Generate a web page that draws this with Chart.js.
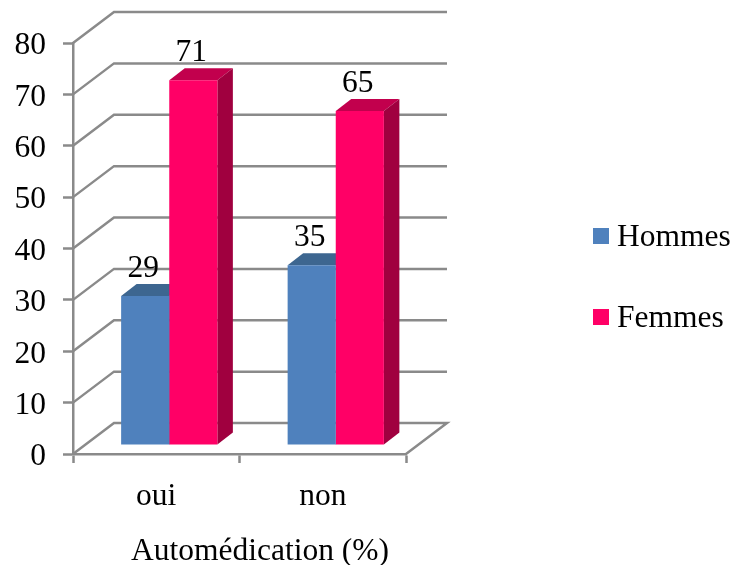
<!DOCTYPE html>
<html>
<head>
<meta charset="utf-8">
<script src="https://cdn.jsdelivr.net/npm/chart.js@4"></script>
<style>
  html, body { margin: 0; padding: 0; background: #fff; }
  canvas { display: block; }
</style>
</head>
<body>
<canvas id="chart" width="732" height="565"></canvas>
<script>
const categories = ['oui', 'non'];
const hommes = [29, 35];
const femmes = [71, 65];
const xTitle = 'Automédication (%)';

const font = '"Liberation Serif", "Times New Roman", serif';
const fontSize = 31.5;
const gridColor = '#8a8a8a';

// faces of each series: front, top, side
const faces = [
  { front: '#4F81BD', top: '#3D6690', side: '#3A5F88' },
  { front: '#FF0066', top: '#C2004D', side: '#A0003F' }
];

const wall = { dx: 41, dy: -31 };   // depth of the back wall
const bar3d = { dx: 15.5, dy: -12 }; // depth of a bar
const plane = { dx: 13, dy: -9 }; // where the bars stand on the floor

// the 3D look: walls, floor, bar sides, data labels and the legend
const fake3d = {
  id: 'fake3d',
  beforeDatasetsDraw(chart) {
    const { ctx, scales: { x, y } } = chart;
    ctx.save();
    ctx.strokeStyle = gridColor;
    ctx.lineWidth = 2.5;
    y.ticks.forEach((t, i) => {
      const py = y.getPixelForTick(i);
      ctx.beginPath();
      ctx.moveTo(x.left, py);
      ctx.lineTo(x.left + wall.dx, py + wall.dy);
      ctx.lineTo(x.right + wall.dx, py + wall.dy);
      if (t.value === 0) ctx.lineTo(x.right, py);
      ctx.stroke();
    });
    ctx.translate(plane.dx, plane.dy);
    chart.getSortedVisibleDatasetMetas().forEach((meta, d) => {
      meta.data.forEach(bar => {
        const l = bar.x - bar.width / 2, r = bar.x + bar.width / 2;
        ctx.fillStyle = faces[d].top;
        ctx.beginPath();
        ctx.moveTo(l, bar.y);
        ctx.lineTo(l + bar3d.dx, bar.y + bar3d.dy);
        ctx.lineTo(r + bar3d.dx, bar.y + bar3d.dy);
        ctx.lineTo(r, bar.y);
        ctx.closePath();
        ctx.fill();
        ctx.fillStyle = faces[d].side;
        ctx.beginPath();
        ctx.moveTo(r, bar.y);
        ctx.lineTo(r + bar3d.dx, bar.y + bar3d.dy);
        ctx.lineTo(r + bar3d.dx, bar.base + bar3d.dy);
        ctx.lineTo(r, bar.base);
        ctx.closePath();
        ctx.fill();
      });
    });
    ctx.restore();
    ctx.save();
    ctx.translate(plane.dx, plane.dy);
  },
  afterDatasetsDraw(chart) {
    const { ctx } = chart;
    ctx.restore();
    ctx.save();
    ctx.fillStyle = '#000';
    ctx.font = fontSize + 'px ' + font;
    ctx.textAlign = 'center';
    ctx.textBaseline = 'alphabetic';
    chart.getSortedVisibleDatasetMetas().forEach(meta => {
      const values = chart.data.datasets[meta.index].data;
      meta.data.forEach((bar, i) => {
        ctx.fillText(values[i], bar.x + plane.dx - 2, bar.y + plane.dy - 19);
      });
    });
    ctx.fillText(xTitle, 260, 560);
    ctx.textAlign = 'left';
    chart.data.datasets.forEach((ds, d) => {
      const cy = 236 + d * 81;
      ctx.fillStyle = ds.backgroundColor;
      ctx.fillRect(593, cy - 8, 16, 16);
      ctx.fillStyle = '#000';
      ctx.fillText(ds.label, 617, cy + 10);
    });
    ctx.restore();
  }
};

new Chart(document.getElementById('chart'), {
  type: 'bar',
  data: {
    labels: categories,
    datasets: [
      { label: 'Hommes', data: hommes, backgroundColor: faces[0].front },
      { label: 'Femmes', data: femmes, backgroundColor: faces[1].front }
    ]
  },
  options: {
    responsive: false,
    animation: false,
    layout: { padding: { left: 0, top: 43, right: 326, bottom: 0 } },
    datasets: { bar: { barPercentage: 1, categoryPercentage: 0.578 } },
    plugins: { legend: { display: false }, tooltip: { enabled: false } },
    scales: {
      x: {
        afterFit(scale) { scale.height = 111; },
        grid: { drawOnChartArea: false, tickLength: 9, tickColor: gridColor, tickWidth: 2.5 },
        border: { color: gridColor, width: 2.5 },
        ticks: { color: '#000', padding: 15, maxRotation: 0, font: { family: font, size: fontSize } }
      },
      y: {
        min: 0,
        max: 80,
        afterFit(scale) { scale.width = 73; },
        grid: { drawOnChartArea: false, tickLength: 10, tickColor: gridColor, tickWidth: 2.5 },
        border: { color: gridColor, width: 2.5 },
        ticks: { color: '#000', stepSize: 10, padding: 17, labelOffset: 3, font: { family: font, size: fontSize } }
      }
    }
  },
  plugins: [fake3d]
});
</script>
</body>
</html>
